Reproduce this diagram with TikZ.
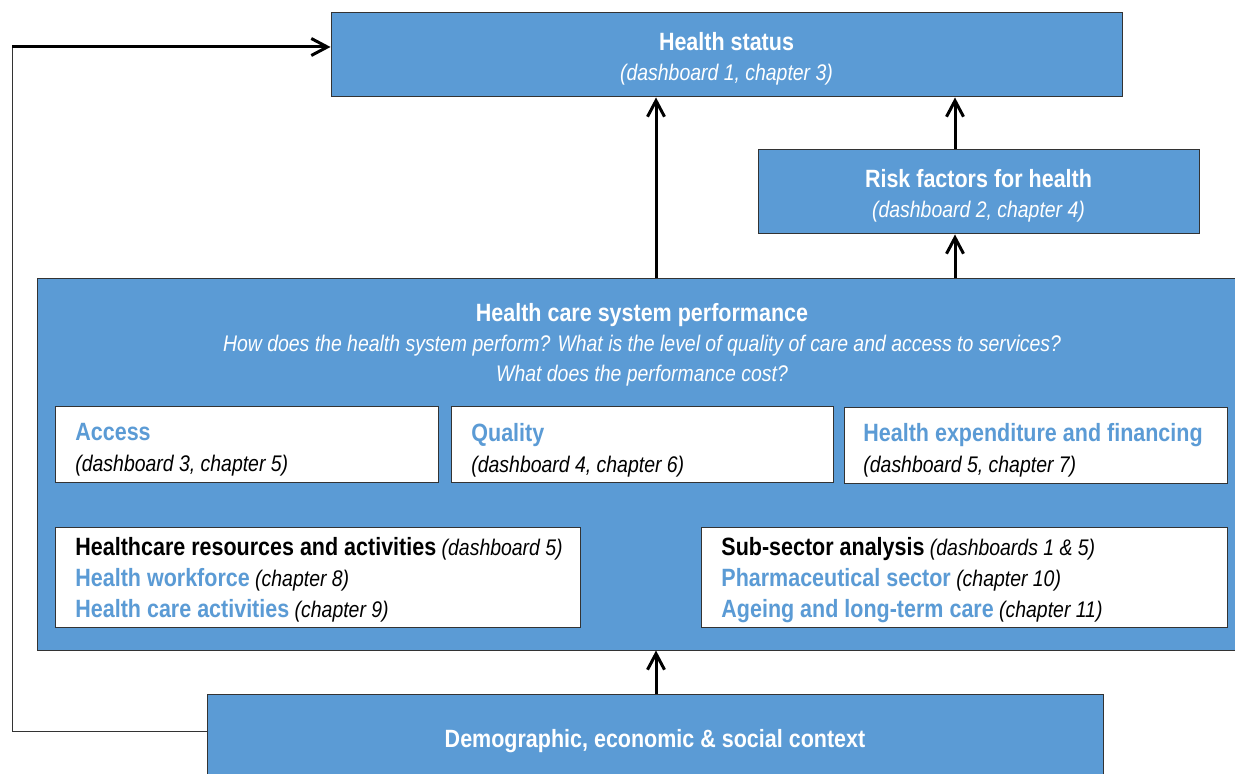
\documentclass[tikz,border=0pt]{standalone}
\usepackage{fontspec}
\setmainfont{Liberation Sans}[FakeStretch=0.86]
\usetikzlibrary{arrows.meta}
\definecolor{boxblue}{HTML}{5B9BD5}
\newcommand{\hb}[1]{{\fontsize{12.5}{15}\selectfont\bfseries #1}}
\newcommand{\hi}[1]{{\fontsize{11.3}{15}\selectfont\itshape #1}}

\begin{document}
\begin{tikzpicture}[x=0.5pt,y=-0.5pt,
    bluebox/.style={draw=black!80, line width=0.5pt, fill=boxblue, inner sep=0pt},
    whitebox/.style={draw=black!80, line width=0.5pt, fill=white, inner sep=0pt},
    bluetext/.style={text=white, align=center, inner sep=0pt, font=\fontsize{11.3}{15}\selectfont},
    boxtext/.style={anchor=west, align=left, inner sep=0pt, font=\fontsize{11.3}{15.5}\selectfont},
    flow/.style={line width=1.5pt, -{Straight Barb[length=8pt,width=8.5pt]}}]
    \useasboundingbox (0,0) rectangle (1235,774);
    \clip (0,0) rectangle (1235,774);

    % boxes
    \node[bluebox, minimum width=395.5pt, minimum height=42pt] (health) at (726.5,55) {};
    \node[bluebox, minimum width=220.5pt, minimum height=42pt] (risk) at (978.5,192) {};
    \node[bluebox, minimum width=599pt, minimum height=185.5pt] (perf) at (636,464.5) {};
    \node[bluebox, minimum width=448pt, minimum height=45pt] (demo) at (655,739) {};

    \node[whitebox, minimum width=191.5pt, minimum height=37.5pt] (access) at (246.5,444.5) {};
    \node[whitebox, minimum width=191pt, minimum height=37.5pt] (quality) at (642,444.5) {};
    \node[whitebox, minimum width=191.5pt, minimum height=37.5pt] (spend) at (1035.5,445.5) {};
    \node[whitebox, minimum width=262.5pt, minimum height=50pt] (resources) at (317.5,577) {};
    \node[whitebox, minimum width=263pt, minimum height=50pt] (subsector) at (964,577) {};

    % texts
    \node[bluetext] (healthtext) at (726.5,59) {\hb{Health status}\\ \hi{(dashboard 1, chapter 3)}};
    \node[bluetext] (risktext) at (978.5,196) {\hb{Risk factors for health}\\ \hi{(dashboard 2, chapter 4)}};
    \node[bluetext] (perftext) at (642,345) {\hb{Health care system performance}\\
        \hi{How does the health system perform? What is the level of quality of care and access to services?}\\
        \hi{What does the performance cost?}};
    \node[bluetext] (demotext) at (655,741) {\hb{Demographic, economic \& social context}};

    \node[boxtext] (accesstext) at (75,450) {\hb{\color{boxblue}Access}\\ \hi{(dashboard 3, chapter 5)}};
    \node[boxtext] (qualitytext) at (471,450) {\hb{\color{boxblue}Quality}\\ \hi{(dashboard 4, chapter 6)}};
    \node[boxtext] (spendtext) at (863,450) {\hb{\color{boxblue}Health expenditure and financing}\\ \hi{(dashboard 5, chapter 7)}};
    \node[boxtext] (resourcestext) at (75,580) {\hb{Healthcare resources and activities} \hi{(dashboard 5)}\\
        \hb{\color{boxblue}Health workforce} \hi{(chapter 8)}\\
        \hb{\color{boxblue}Health care activities} \hi{(chapter 9)}};
    \node[boxtext] (subsectortext) at (721,580) {\hb{Sub-sector analysis} \hi{(dashboards 1 \& 5)}\\
        \hb{\color{boxblue}Pharmaceutical sector} \hi{(chapter 10)}\\
        \hb{\color{boxblue}Ageing and long-term care} \hi{(chapter 11)}};

    % arrows
    \draw[flow] (656,0 |- perf.north) -- (656,0 |- health.south);
    \draw[flow] (955,0 |- perf.north) -- (955,0 |- risk.south);
    \draw[flow] (955,0 |- risk.north) -- (955,0 |- health.south);
    \draw[flow] (656,0 |- demo.north) -- (656,0 |- perf.south);

    \coordinate (corner) at (12,47);
    \draw[black!80, line width=0.5pt] (demo.west |- 0,731) -- (12,731) -- (corner);
    \draw[flow] (corner) -- (health.west |- corner);
\end{tikzpicture}
\end{document}
